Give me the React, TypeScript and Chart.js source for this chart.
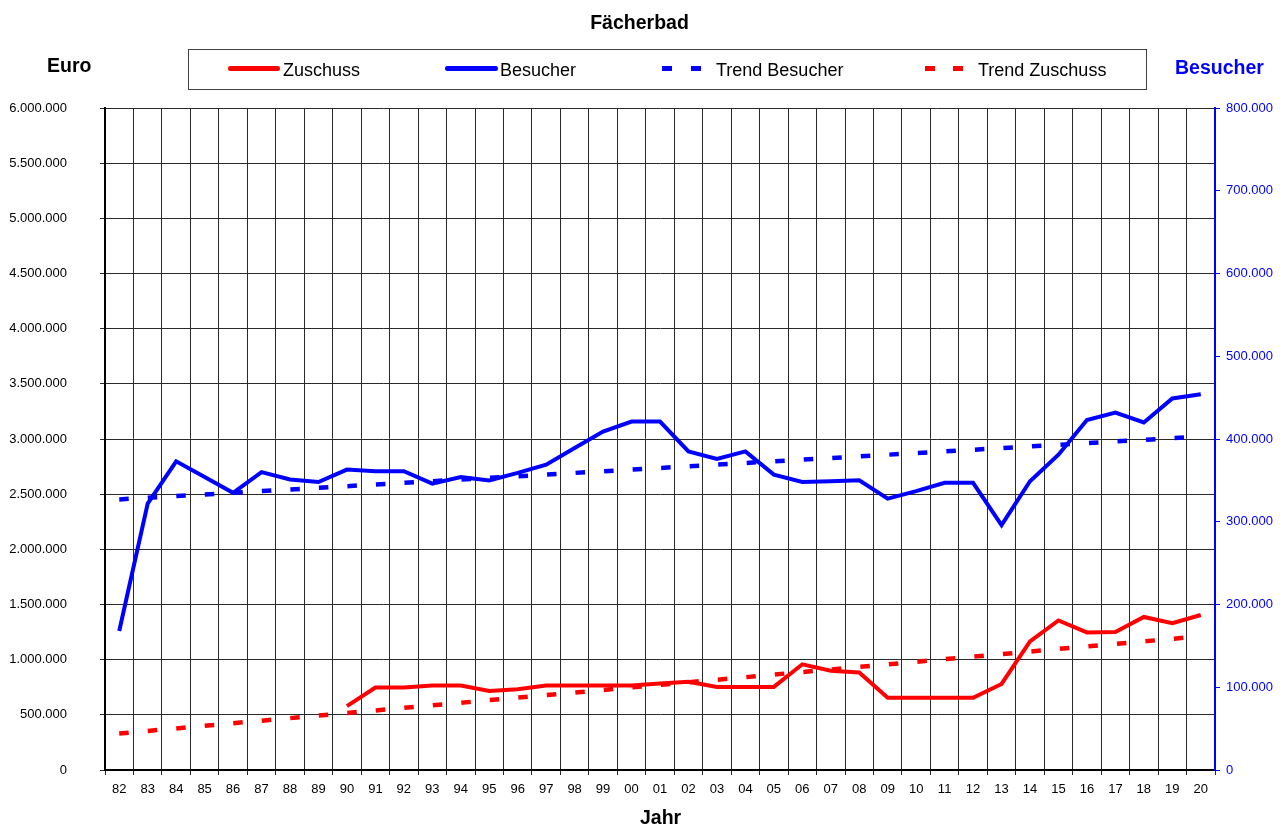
import React, { useEffect, useRef } from "react";
import { Chart, registerables } from "chart.js";

Chart.register(...registerables);

const years = ["82","83","84","85","86","87","88","89","90","91","92","93","94","95","96","97","98","99","00","01","02","03","04","05","06","07","08","09","10","11","12","13","14","15","16","17","18","19","20"];

const zuschuss = [null,null,null,null,null,null,null,null,579000,747000,747000,766000,766000,716000,732000,766000,766000,766000,766000,783000,800000,753000,753000,753000,958000,899000,884000,654000,654000,654000,654000,780000,1166000,1355000,1247000,1250000,1387000,1331000,1405000];

const besucher = [168000,322000,373000,354000,335000,360000,351000,348000,363000,361000,361000,346000,354000,350000,359000,369000,389000,409000,421000,421000,385000,376000,385000,357000,348000,349000,350000,328000,337000,347000,347000,296000,349000,381000,423000,432000,420000,449000,454000];

const trendBesucher = [327000,329000,331000,333000,335000,337000,339000,341000,343000,345000,347000,349000,351000,353000,355000,357000,359000,361000,363000,365000,367000,369000,371000,373000,375000,377000,379000,381000,383000,385000,387000,389000,391000,393000,395000,397000,399000,401000,403000];

const trendZuschuss = [331000,354000,377000,401000,424000,447000,470000,493000,517000,540000,563000,586000,609000,633000,656000,679000,702000,725000,749000,772000,795000,818000,841000,865000,888000,911000,934000,957000,981000,1004000,1027000,1050000,1073000,1097000,1120000,1143000,1166000,1189000,1213000];

const euroRange = [0, 6000000];
const euroStep = 500000;
const visitorRange = [0, 800000];
const visitorStep = 100000;

const RED = "#FF0000";
const BLUE = "#0000FF";
const FONT = "'Liberation Sans', Arial, Helvetica, sans-serif";

const fmt = (v: number) => String(Math.round(v)).replace(/\B(?=(\d{3})+(?!\d))/g, ".");

export default function App() {
  const ref = useRef<HTMLCanvasElement | null>(null);

  useEffect(() => {
    if (!ref.current) return;
    Chart.defaults.font.family = FONT;
    const chart = new Chart(ref.current, {
      type: "line",
      data: {
        labels: years,
        datasets: [
          {
            label: "Zuschuss",
            data: zuschuss,
            borderColor: RED,
            backgroundColor: RED,
            borderWidth: 4,
            pointRadius: 0,
            tension: 0,
            yAxisID: "y",
            order: 1,
          },
          {
            label: "Besucher",
            data: besucher,
            borderColor: BLUE,
            backgroundColor: BLUE,
            borderWidth: 4,
            pointRadius: 0,
            tension: 0,
            yAxisID: "y1",
            order: 1,
          },
          {
            label: "Trend Besucher",
            data: trendBesucher,
            borderColor: BLUE,
            backgroundColor: BLUE,
            borderWidth: 4.5,
            borderDash: [9.5, 19.07],
            pointRadius: 0,
            tension: 0,
            yAxisID: "y1",
            order: 0,
          },
          {
            label: "Trend Zuschuss",
            data: trendZuschuss,
            borderColor: RED,
            backgroundColor: RED,
            borderWidth: 4.5,
            borderDash: [9.5, 19.12],
            pointRadius: 0,
            tension: 0,
            yAxisID: "y",
            order: 0,
          },
        ],
      },
      options: {
        animation: false,
        responsive: false,
        maintainAspectRatio: false,
        devicePixelRatio: 1,
        layout: { padding: { top: 108, left: 0, right: 0, bottom: 0 } },
        plugins: {
          legend: { display: false },
          title: { display: false },
          tooltip: { enabled: false },
        },
        scales: {
          x: {
            type: "category",
            offset: true,
            grid: {
              offset: true,
              color: "#2a2a2a",
              lineWidth: 1,
              drawTicks: true,
              tickLength: 5,
            },
            border: { color: "#000", width: 2 },
            ticks: {
              color: "#000",
              font: { size: 13, family: FONT },
              padding: 7,
              maxRotation: 0,
              autoSkip: false,
            },
            afterFit: (s: any) => {
              s.height = 56;
            },
          },
          y: {
            position: "left",
            min: euroRange[0],
            max: euroRange[1],
            grid: { color: "#2a2a2a", lineWidth: 1, drawTicks: true, tickLength: 5 },
            border: { color: "#000", width: 2 },
            ticks: {
              stepSize: euroStep,
              color: "#000",
              font: { size: 13, family: FONT },
              padding: 33,
              callback: (v: any) => fmt(Number(v)),
            },
            afterFit: (s: any) => {
              s.width = 105;
            },
          },
          y1: {
            position: "right",
            min: visitorRange[0],
            max: visitorRange[1],
            grid: { drawOnChartArea: false, color: BLUE, lineWidth: 1, drawTicks: true, tickLength: 5 },
            border: { color: BLUE, width: 2 },
            ticks: {
              stepSize: visitorStep,
              color: BLUE,
              font: { size: 13, family: FONT },
              padding: 6,
              callback: (v: any) => fmt(Number(v)),
            },
            afterFit: (s: any) => {
              s.width = 73;
            },
          },
        },
      },
    });
    return () => chart.destroy();
  }, []);

  const bold: React.CSSProperties = {
    position: "absolute",
    fontFamily: FONT,
    fontWeight: "bold",
    fontSize: "19.5px",
    lineHeight: "19.5px",
    whiteSpace: "nowrap",
    margin: 0,
  };
  const legendText: React.CSSProperties = {
    position: "absolute",
    fontFamily: FONT,
    fontSize: "18px",
    lineHeight: "18px",
    top: 60.5,
    color: "#000",
    whiteSpace: "nowrap",
  };
  const bar = (left: number, width: number, color: string, round: boolean): React.CSSProperties => ({
    position: "absolute",
    left,
    width,
    top: 66.3,
    height: 4.5,
    background: color,
    borderRadius: round ? 2.25 : 0,
  });

  return (
    <div style={{ position: "absolute", left: 0, top: 0, width: 1288, height: 826, background: "#fff", overflow: "hidden" }}>
      <canvas ref={ref} width={1288} height={826} style={{ position: "absolute", left: 0, top: 0, width: 1288, height: 826, display: "block" }} />
      <div style={{ ...bold, left: 0, width: 1279, textAlign: "center", top: 12.5, color: "#000" }}>Fächerbad</div>
      <div style={{ ...bold, left: 47, top: 55.8, color: "#000" }}>Euro</div>
      <div style={{ ...bold, left: 1175, top: 57.5, color: BLUE }}>Besucher</div>
      <div style={{ ...bold, left: 640, top: 807.5, color: "#000" }}>Jahr</div>
      <div
        style={{
          position: "absolute",
          left: 187.5,
          top: 49,
          width: 959,
          height: 40.5,
          boxSizing: "border-box",
          border: "1.5px solid #404040",
        }}
      />
      <div style={bar(228, 52, RED, true)} />
      <div style={{ ...legendText, left: 283 }}>Zuschuss</div>
      <div style={bar(445, 53, BLUE, true)} />
      <div style={{ ...legendText, left: 500 }}>Besucher</div>
      <div style={bar(662, 10, BLUE, false)} />
      <div style={bar(691, 10, BLUE, false)} />
      <div style={{ ...legendText, left: 716 }}>Trend Besucher</div>
      <div style={bar(925, 10, RED, false)} />
      <div style={bar(953, 10, RED, false)} />
      <div style={{ ...legendText, left: 978 }}>Trend Zuschuss</div>
    </div>
  );
}
